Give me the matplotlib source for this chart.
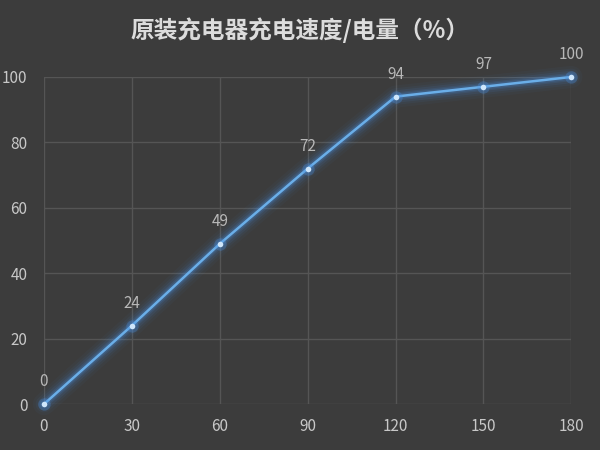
import matplotlib
matplotlib.use('Agg')
import matplotlib.pyplot as plt

plt.rcParams['font.family'] = ['Noto Sans CJK SC', 'DejaVu Sans']

# データ
minutes = [0, 30, 60, 90, 120, 150, 180]
charge = [0, 24, 49, 72, 94, 97, 100]
x_ticks = [0, 30, 60, 90, 120, 150, 180]
y_ticks = [0, 20, 40, 60, 80, 100]
title = '原装充电器充电速度/电量（%）'

bg = '#3c3c3c'
fig = plt.figure(figsize=(6, 4.5), dpi=100, facecolor=bg)
ax = fig.add_axes([0.0733, 0.102, 0.879, 0.727], facecolor=bg)

# グロー効果
for lw, a in [(16, 0.04), (12, 0.06), (9, 0.09), (6, 0.13), (4, 0.2)]:
    ax.plot(minutes, charge, color='#4a90e2', lw=lw, alpha=a,
            solid_capstyle='round', zorder=3, clip_on=False)
ax.plot(minutes, charge, color='#6aaee8', lw=1.8, zorder=4, clip_on=False)
ax.scatter(minutes, charge, s=80, color='#4a90e2', alpha=0.3, zorder=4,
           linewidths=0, clip_on=False)
ax.scatter(minutes, charge, s=16, color='#cfe6fb', zorder=5, linewidths=0,
           clip_on=False)

for x, y in zip(minutes, charge):
    ax.annotate(str(y), (x, y), xytext=(0, 10), textcoords='offset points',
                ha='center', va='bottom', color='#b8b8b8', fontsize=11)

ax.set_xlim(0, 180)
ax.set_ylim(0, 100)
ax.set_xticks(x_ticks)
ax.set_yticks(y_ticks)
ax.grid(True, color='#555555', lw=1)
ax.set_axisbelow(True)
for s in ax.spines.values():
    s.set_visible(False)
ax.tick_params(length=0, colors='#c8c8c8', labelsize=11, pad=10)
ax.tick_params(axis='y', pad=12)

fig.text(0.5, 0.932, title, ha='center', va='center', color='#dcdcdc',
         fontsize=17, fontweight='bold')

fig.savefig('out.png', dpi=100, facecolor=bg)
